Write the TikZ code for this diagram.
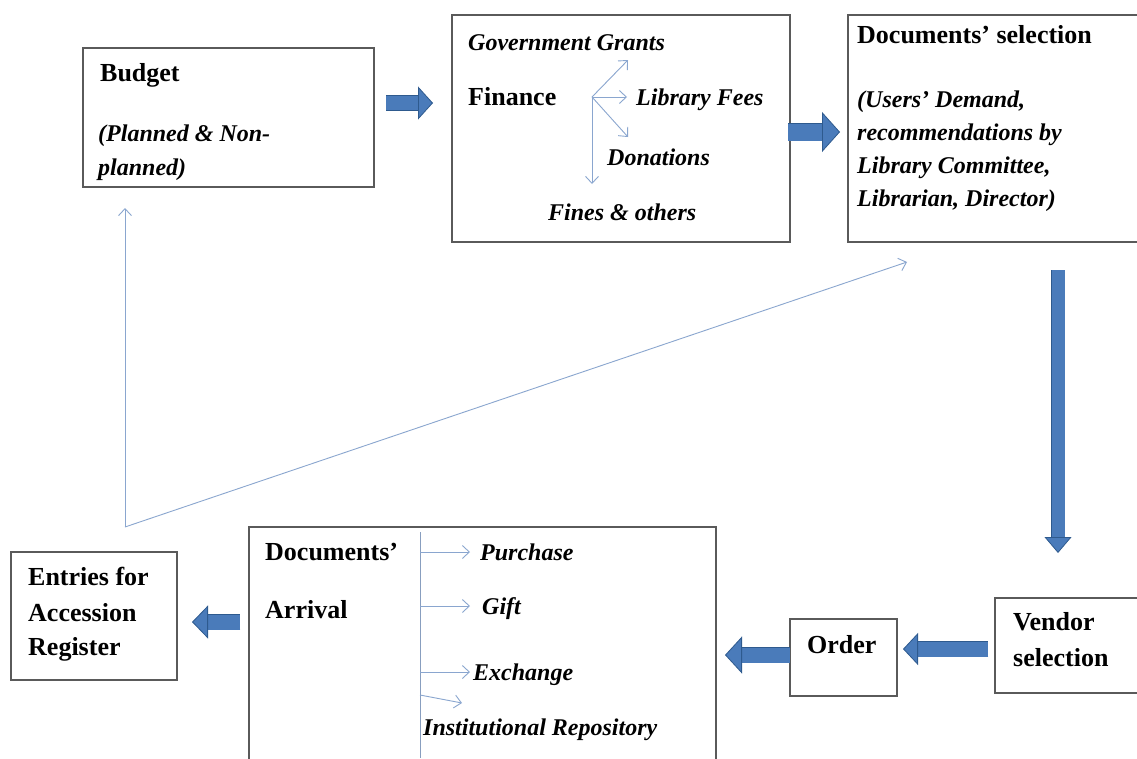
\documentclass[tikz,border=0pt]{standalone}
\usepackage{fontspec}
\setmainfont{Liberation Serif}
\usetikzlibrary{arrows.meta}
\definecolor{ablue}{HTML}{4A7BBA}
\definecolor{adark}{HTML}{2E5A8E}
\definecolor{tblue}{HTML}{8AA6CF}
\definecolor{boxgray}{HTML}{5A5A5A}
\tikzset{
  box/.style={draw=boxgray, line width=1.3pt, inner sep=0pt, fill=white},
  lb/.style={anchor=base west, inner sep=0pt, font=\fontsize{26}{35}\selectfont\bfseries},
  li/.style={anchor=base west, inner sep=0pt, font=\fontsize{24}{35}\selectfont\bfseries\itshape},
  thinarr/.style={draw=tblue, line width=0.9pt, -{Straight Barb[length=7pt,width=13pt]}},
  blockarr/.style n args={4}{line width=#1, draw=ablue,
     -{Triangle[length=#3,width=#2,fill=ablue,color=adark,line width=0.8pt]},
     preaction={draw=adark, line width=#4, arrows=-, shorten >=#3}}
}
\begin{document}
\begin{tikzpicture}[x=1pt,y=-1pt]
\clip (0,0) rectangle (1137,758);
\fill[white] (0,0) rectangle (1137,758);
% boxes
\node[box, minimum width=291pt, minimum height=139pt] (budget) at (228.5,117.5) {};
\node[box, minimum width=338pt, minimum height=227pt] (finance) at (621,128.5) {};
\node[box, minimum width=297pt, minimum height=227pt] (docsel) at (996.5,128.5) {};
\node[box, minimum width=150pt, minimum height=95pt] (vendor) at (1070,645.5) {};
\node[box, minimum width=107pt, minimum height=77pt] (order) at (843.5,657.5) {};
\node[box, minimum width=467pt, minimum height=243pt] (arrival) at (482.5,648.5) {};
\node[box, minimum width=166pt, minimum height=128pt] (entries) at (94,616) {};
% divider in arrival box
\draw[draw=tblue!80!gray, line width=0.9pt] (420,532) -- (420,758);
% labels
\node[lb] (tbudget) at (100,81) {Budget};
\node[li] (tplan1) at (98,141) {(Planned \& Non-};
\node[li] (tplan2) at (98,175) {planned)};
\node[li] (tgov) at (468,50) {Government Grants};
\node[lb] (tfin) at (468,105) {Finance};
\node[li] (tfees) at (636,105) {Library Fees};
\node[li] (tdon) at (607,165) {Donations};
\node[li] (tfines) at (548,220) {Fines \& others};
\node[lb] (tdocsel) at (857,43) {Documents’ selection};
\node[li] (tds1) at (857,107) {(Users’ Demand,};
\node[li] (tds2) at (857,140) {recommendations by};
\node[li] (tds3) at (857,173) {Library Committee,};
\node[li] (tds4) at (857,206) {Librarian, Director)};
\node[lb] (tven1) at (1013,630) {Vendor};
\node[lb] (tven2) at (1013,666) {selection};
\node[lb] (tord) at (807,653) {Order};
\node[lb] (tarr1) at (265,560) {Documents’};
\node[lb] (tarr2) at (265,618) {Arrival};
\node[li] (tpur) at (480,560) {Purchase};
\node[li] (tgift) at (482,614) {Gift};
\node[li] (texch) at (473,680) {Exchange};
\node[li] (tinst) at (423,735) {Institutional Repository};
\node[lb] (tent1) at (28,585) {Entries for};
\node[lb] (tent2) at (28,621) {Accession};
\node[lb] (tent3) at (28,655) {Register};
% coordinates for connector ends
\coordinate (a1s) at (386,103); \coordinate (a1e) at (433,103);
\coordinate (a2s) at (788,132); \coordinate (a2e) at (840,132);
\coordinate (a3s) at (1058,270); \coordinate (a3e) at (1058,553);
\coordinate (a4s) at (988,649); \coordinate (a4e) at (903,649);
\coordinate (a5s) at (790,655); \coordinate (a5e) at (725,655);
\coordinate (a6s) at (240,622); \coordinate (a6e) at (192,622);
% block arrows
\draw[blockarr={14pt}{33pt}{15pt}{15.6pt}] (a1s) -- (a1e);
\draw[blockarr={17pt}{40pt}{18pt}{18.6pt}] (a2s) -- (a2e);
\draw[blockarr={13pt}{27pt}{16pt}{14.6pt}] (a3s) -- (a3e);
\draw[blockarr={15pt}{32pt}{15pt}{16.6pt}] (a4s) -- (a4e);
\draw[blockarr={15pt}{37pt}{17pt}{16.6pt}] (a5s) -- (a5e);
\draw[blockarr={15pt}{33pt}{16pt}{16.6pt}] (a6s) -- (a6e);
% finance branch arrows
\coordinate (fbr) at (592,97);
\coordinate (fgov) at (628,60);
\coordinate (ffee) at (627,97);
\coordinate (fdon) at (628,137);
\coordinate (ffin) at (592,184);
\draw[thinarr] (fbr) -- (fgov);
\draw[thinarr] (fbr) -- (ffee);
\draw[thinarr] (fbr) -- (fdon);
\draw[thinarr] (fbr) -- (ffin);
% arrival branch arrows
\coordinate (dp) at (420,552); \coordinate (dpe) at (470,552);
\coordinate (dg) at (420,606); \coordinate (dge) at (470,606);
\coordinate (dx) at (420,672); \coordinate (dxe) at (470,672);
\coordinate (di) at (420,695); \coordinate (die) at (462,703);
\draw[thinarr] (dp) -- (dpe);
\draw[thinarr] (dg) -- (dge);
\draw[thinarr] (dx) -- (dxe);
\draw[thinarr] (di) -- (die);
% feedback arrows
\coordinate (fb) at (125,527);
\coordinate (fbup) at (125,208);
\coordinate (fbds) at (907,262);
\draw[thinarr] (fb) -- (fbup);
\draw[thinarr] (fb) -- (fbds);
\end{tikzpicture}
\end{document}
